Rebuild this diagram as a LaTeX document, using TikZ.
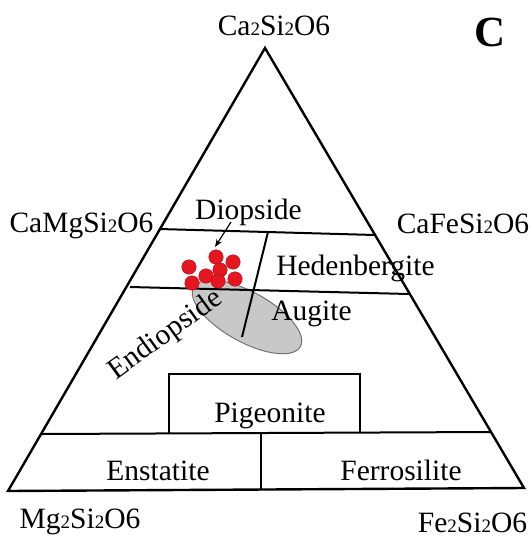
\documentclass[tikz,border=0pt]{standalone}
\usepackage{fontspec}
\setmainfont{Liberation Serif}
\usetikzlibrary{arrows.meta}

\definecolor{dotred}{RGB}{228,22,32}
\definecolor{fieldgray}{RGB}{200,200,200}
\newcommand{\lowtwo}{{\fontsize{19}{19}\selectfont 2}}

\begin{document}
\begin{tikzpicture}[x=1pt, y=-1pt, every node/.style={font=\fontsize{29.5}{32}\selectfont, inner sep=0pt, anchor=base}]

\tikzset{
    rim/.style={line width=2.4pt, line join=miter},
    divide/.style={line width=2pt},
    dot/.style={circle, fill=dotred, draw=dotred!75!black, line width=0.4pt, minimum size=14.5pt},
    field/.style={fill=fieldgray, draw=black!55, line width=1pt}
}

\useasboundingbox (0,0) rectangle (532,539);

\coordinate (ca) at (265,48);
\coordinate (mg) at (8,491);
\coordinate (fe) at (524,488);

\draw[field, rotate around={-29:(247,317)}] (247,317) ellipse [x radius=61, y radius=25];

\draw[rim] (ca) -- (mg) -- (fe) -- cycle;

\draw[divide] (159,229) -- (375,235);
\draw[divide] (130,287) -- (409,294);
\draw[divide] (42,434) -- (491,432);
\draw[divide] (268,232) -- (242,337);
\draw[divide] (169,433) -- (169,374) -- (360,374) -- (360,433);
\draw[divide] (261,433) -- (261,489.5);

\foreach \p [count=\i] in {(189,267), (216,257), (233,262), (220,270), (206,276), (218,281), (235,279), (192,283)} {
    \node[dot, anchor=center] (d\i) at \p {};
}

\coordinate (tail) at (231,222);
\coordinate (tip) at (215,247);
\draw[line width=1.2pt, -{Stealth[length=8pt, width=6pt]}] (tail) -- (tip);

\node (top) at (274,35) {Ca\lowtwo Si\lowtwo O6};
\node[font=\fontsize{43}{45}\selectfont\bfseries] (panel) at (490,46.5) {C};
\node (camg) at (81.5,232) {CaMgSi\lowtwo O6};
\node (cafe) at (463,233) {CaFeSi\lowtwo O6};
\node (mgmg) at (80,528) {Mg\lowtwo Si\lowtwo O6};
\node (fefe) at (472.5,532) {Fe\lowtwo Si\lowtwo O6};

\node (diop) at (248.5,219) {Diopside};
\node (hed) at (355.5,275) {Hedenbergite};
\node (aug) at (311.5,320) {Augite};
\node[rotate=36] (endi) at (170,341) {Endiopside};
\node (pig) at (270,422) {Pigeonite};
\node (ens) at (158,480) {Enstatite};
\node (fer) at (401,480) {Ferrosilite};

\end{tikzpicture}
\end{document}
